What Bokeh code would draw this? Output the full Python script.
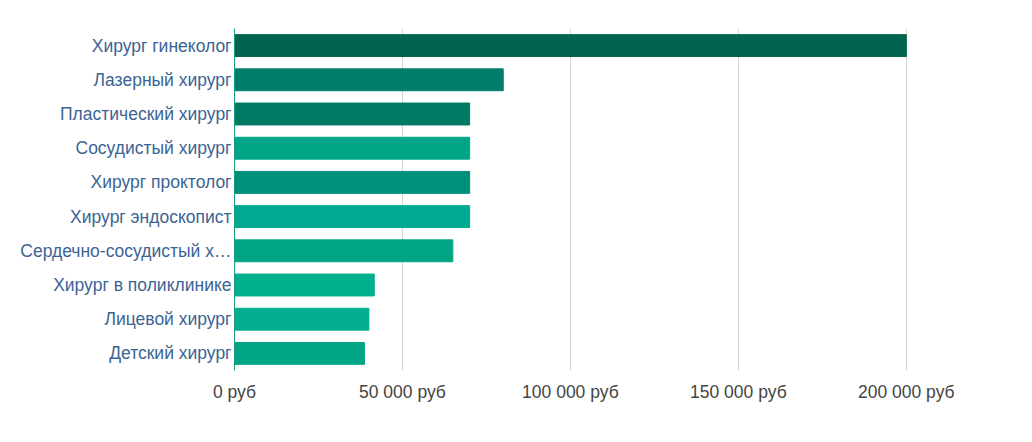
from bokeh.plotting import figure
from bokeh.models import Range1d, FactorRange, FixedTicker, CustomJSTickFormatter, ColumnDataSource
from bokeh.embed import file_html
from bokeh.resources import INLINE

categories = ["Хирург гинеколог", "Лазерный хирург", "Пластический хирург",
              "Сосудистый хирург", "Хирург проктолог", "Хирург эндоскопист",
              "Сердечно-сосудистый х…", "Хирург в поликлинике", "Лицевой хирург",
              "Детский хирург"]
salaries = [200000, 80000, 70000, 70000, 70000, 70000, 65000, 41600, 40000, 38700]
colors = ["#02634f", "#007d6b", "#007a62", "#00a687", "#008f7b",
          "#00a991", "#00a584", "#00b08f", "#00ad90", "#00a585"]
x_ticks = [0, 50000, 100000, 150000, 200000]

src = ColumnDataSource(dict(cat=categories, val=salaries, col=colors))

p = figure(width=1016, height=426, output_backend="svg", toolbar_location=None,
           y_range=FactorRange(*list(reversed(categories)), range_padding=0),
           x_range=Range1d(0, 220000),
           min_border_left=234, min_border_right=43, min_border_top=28, min_border_bottom=56)
p.hbar(y="cat", right="val", left=0, height=0.64, color="col", source=src)

p.outline_line_color = None
p.background_fill_color = "white"
p.border_fill_color = "white"

p.xaxis.ticker = FixedTicker(ticks=x_ticks)
p.xaxis.formatter = CustomJSTickFormatter(code="""
return tick.toFixed(0).replace(/\\B(?=(\\d{3})+(?!\\d))/g, " ") + " руб";
""")
p.xaxis.axis_line_color = None
p.xaxis.major_tick_line_color = None
p.xaxis.minor_tick_line_color = None
p.xaxis.major_tick_out = 0
p.xaxis.minor_tick_out = 0
p.xaxis.major_label_text_font = "Liberation Sans"
p.xaxis.major_label_text_font_size = "17.5px"
p.xaxis.major_label_text_color = "#444444"
p.xaxis.major_label_standoff = 11

p.yaxis.axis_line_color = "#1a9a80"
p.yaxis.axis_line_width = 1
p.yaxis.major_tick_line_color = None
p.yaxis.minor_tick_line_color = None
p.yaxis.major_tick_out = 0
p.yaxis.minor_tick_out = 0
p.yaxis.major_label_text_font = "Liberation Sans"
p.yaxis.major_label_text_font_size = "17.5px"
p.yaxis.major_label_text_color = "#3b6494"
p.yaxis.major_label_standoff = 3

p.xgrid.ticker = FixedTicker(ticks=x_ticks)
p.xgrid.grid_line_color = "#d4d4d4"
p.ygrid.grid_line_color = None

open("out.html", "w").write(file_html(p, INLINE))
